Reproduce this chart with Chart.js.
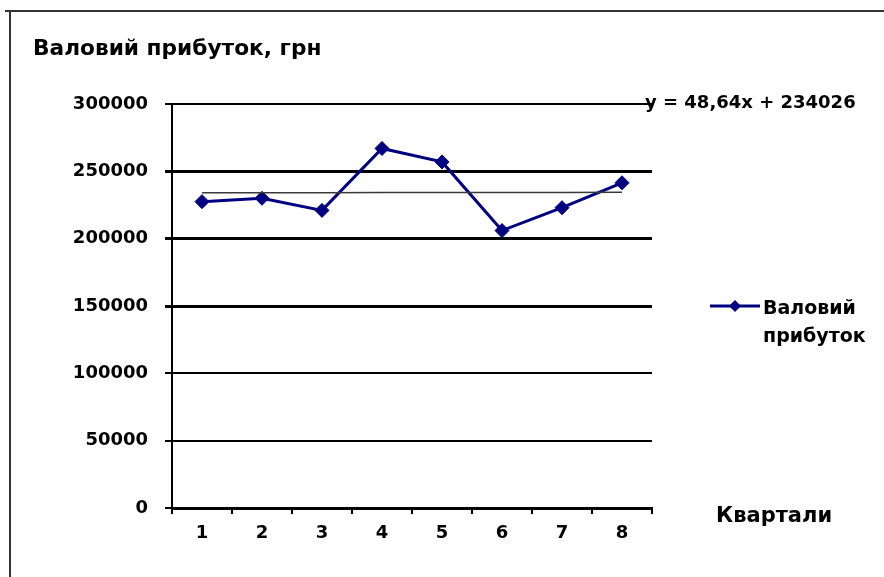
<!DOCTYPE html>
<html><head><meta charset="utf-8">
<script src="https://cdn.jsdelivr.net/npm/chart.js@4/dist/chart.umd.min.js"></script>
<style>html,body{margin:0;padding:0;background:#fff;} #wrap{position:relative;width:884px;height:577px;}</style>
</head><body><div id="wrap"><canvas id="c" width="884" height="577"></canvas></div>
<script>
const categories = ['1', '2', '3', '4', '5', '6', '7', '8'];
const profitValues = [227500, 230000, 221000, 267000, 257000, 206000, 223000, 241500];
const trendValues = [234075, 234124, 234172, 234221, 234269, 234318, 234366, 234415];
const yTickValues = [0, 50000, 100000, 150000, 200000, 250000, 300000];
const chartTitle = 'Валовий прибуток, грн';
const seriesLabelLines = ['Валовий', 'прибуток'];
const xAxisTitle = 'Квартали';
const trendLabel = 'y = 48,64x + 234026';

const FONT = '"DejaVu Sans", sans-serif';
const thick = [150000, 200000, 250000];

const decor = {
  id: 'decor',
  beforeDraw(chart) {
    const ctx = chart.ctx;
    ctx.save();
    ctx.fillStyle = '#fff';
    ctx.fillRect(0, 0, chart.width, chart.height);
    ctx.strokeStyle = '#333';
    ctx.lineWidth = 2;
    ctx.beginPath();
    ctx.moveTo(5, 11); ctx.lineTo(chart.width, 11);
    ctx.moveTo(10, 11); ctx.lineTo(10, chart.height);
    ctx.stroke();
    ctx.restore();
  },
  afterDraw(chart) {
    const ctx = chart.ctx;
    const area = chart.chartArea;
    const ys = chart.scales.y;
    const ds = chart.data.datasets[1];
    ctx.save();
    ctx.fillStyle = '#000';
    ctx.textBaseline = 'alphabetic';
    ctx.textAlign = 'left';
    // title
    ctx.font = 'bold 21.7px ' + FONT;
    ctx.fillText(chartTitle, 33, 55);
    // trend label
    ctx.font = 'bold 18px ' + FONT;
    ctx.fillText(trendLabel, area.right - 7, ys.getPixelForValue(300000) + 4);
    // legend
    const ly = 306;
    ctx.strokeStyle = ds.borderColor;
    ctx.lineWidth = 3;
    ctx.beginPath();
    ctx.moveTo(710, ly); ctx.lineTo(760, ly);
    ctx.stroke();
    ctx.fillStyle = ds.pointBackgroundColor;
    ctx.beginPath();
    const r = 6;
    ctx.moveTo(735, ly - r); ctx.lineTo(735 + r, ly); ctx.lineTo(735, ly + r); ctx.lineTo(735 - r, ly);
    ctx.closePath();
    ctx.fill();
    ctx.fillStyle = '#000';
    ctx.font = 'bold 19px ' + FONT;
    ctx.fillText(seriesLabelLines[0], 763, 314);
    ctx.fillText(seriesLabelLines[1], 763, 342);
    // x axis title
    ctx.font = 'bold 21px ' + FONT;
    ctx.fillText(xAxisTitle, 716, 522);
    ctx.restore();
  }
};

new Chart(document.getElementById('c'), {
  type: 'line',
  data: {
    labels: categories,
    datasets: [
      {
        label: 'Лінійний тренд',
        data: trendValues,
        borderColor: '#3a3a3a',
        borderWidth: 1.5,
        pointRadius: 0,
        fill: false,
        tension: 0
      },
      {
        label: seriesLabelLines.join(' '),
        data: profitValues,
        borderColor: '#000080',
        backgroundColor: '#000080',
        pointBackgroundColor: '#000080',
        pointBorderColor: '#000080',
        borderWidth: 3,
        pointStyle: 'rectRot',
        pointRadius: 7,
        pointBorderWidth: 1,
        fill: false,
        tension: 0
      }
    ]
  },
  options: {
    responsive: false,
    animation: false,
    devicePixelRatio: 1,
    layout: { padding: { left: 0, top: 104, right: 232, bottom: 0 } },
    plugins: { legend: { display: false }, tooltip: { enabled: false }, title: { display: false } },
    scales: {
      x: {
        type: 'category',
        offset: true,
        afterFit(s) { s.height = 69; },
        grid: { display: true, drawOnChartArea: false, drawTicks: true, tickLength: 6, color: '#000', lineWidth: 2, offset: true },
        border: { display: true, color: '#000', width: 3 },
        ticks: { color: '#000', font: { family: FONT, size: 18, weight: 'bold' }, padding: 9, maxRotation: 0 }
      },
      y: {
        min: 0,
        max: 300000,
        afterFit(s) { s.width = 172; },
        afterBuildTicks(s) { s.ticks = yTickValues.map(v => ({ value: v })); },
        grid: {
          color: '#000',
          lineWidth: c => (thick.includes(c.tick && c.tick.value) ? 3 : 2),
          drawTicks: true,
          tickLength: 7
        },
        border: { display: true, color: '#000', width: 2 },
        ticks: { color: '#000', font: { family: FONT, size: 18, weight: 'bold' }, padding: 17, callback: v => String(v) }
      }
    }
  },
  plugins: [decor]
});
</script>
</body></html>
